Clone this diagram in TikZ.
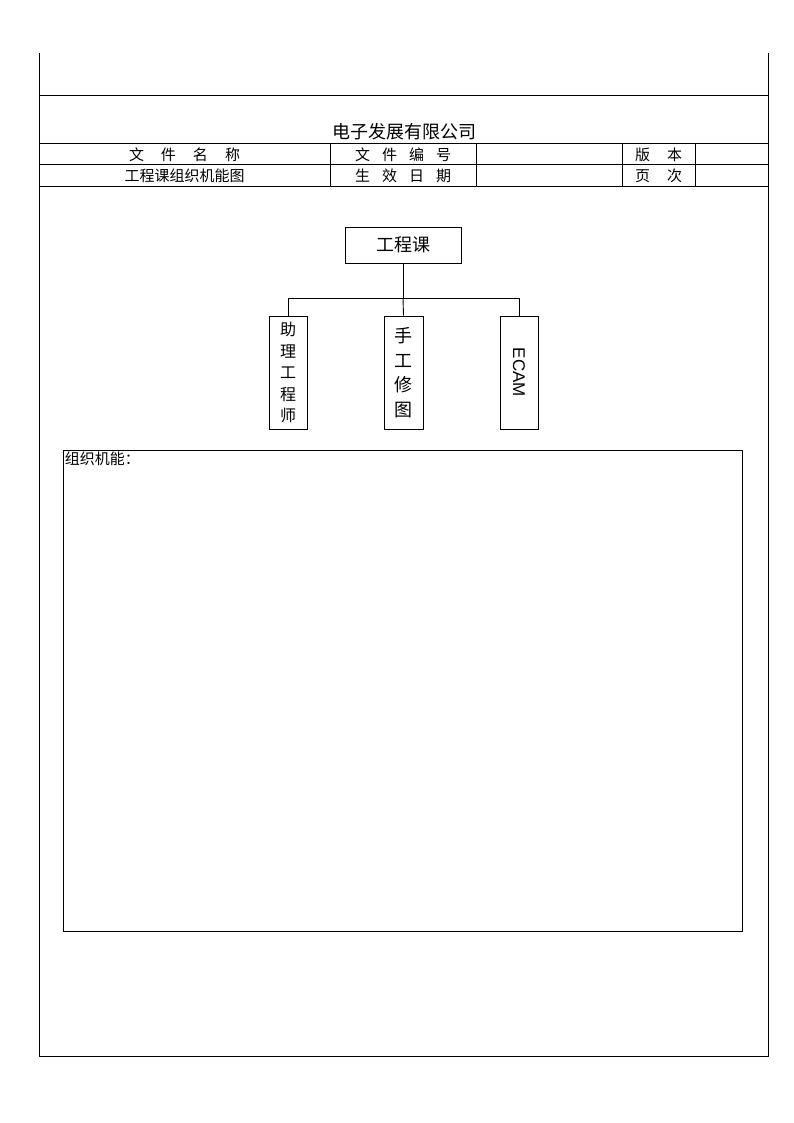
\documentclass[tikz,border=0pt]{standalone}
\usepackage{fontspec}
\setmainfont{Noto Sans CJK SC}
\newfontfamily\latinsans{Liberation Sans}
\usetikzlibrary{positioning}
\newcommand{\cgap}{\hspace{17pt}}
\newcommand{\sgap}{\hspace{12pt}}

\begin{document}
\begin{tikzpicture}[
  x=1pt,y=-1pt,
  frame/.style={line width=1pt, draw=black},
  cell/.style={inner sep=0pt, anchor=center, font=\fontsize{15}{17}\selectfont},
  unit/.style={
    rectangle, draw=black, line width=0.9pt,
    minimum width=38pt, minimum height=113pt,
    inner sep=0pt, align=center
  },
  link/.style={line width=0.9pt, draw=black}
]
\useasboundingbox (0,0) rectangle (794,1123);

% ---- form frame ----
\draw[frame] (39,53) -- (39,1056) -- (768,1056) -- (768,53);
\draw[frame] (39,96)  -- (768,96);
\draw[frame] (39,144) -- (768,144);
\draw[frame] (39,165) -- (768,165);
\draw[frame] (39,187) -- (768,187);
\foreach \cx in {330,476,622,695}
  \draw[frame] (\cx,144) -- (\cx,187);

% ---- header texts ----
\node[cell, font=\fontsize{18}{20}\selectfont] (company) at (404,132) {电子发展有限公司};
\node[cell] (namehd)  at (184.5,155) {文\cgap 件\cgap 名\cgap 称};
\node[cell] (codehd)  at (403,155)   {文\sgap 件\sgap 编\sgap 号};
\node[cell] (verhd)   at (658.5,155) {版\cgap 本};
\node[cell] (docname) at (184.5,176) {工程课组织机能图};
\node[cell] (datehd)  at (403,176)   {生\sgap 效\sgap 日\sgap 期};
\node[cell] (pagehd)  at (658.5,176) {页\cgap 次};

% ---- org chart ----
\node[unit, minimum width=116pt, minimum height=36pt, font=\fontsize{18}{20}\selectfont] (head) at (403,245) {工程课};
\node[unit, font=\fontsize{16}{21.5}\selectfont] (asst) at (288,372.5) {助\\理\\工\\程\\师};
\node[unit, minimum width=39pt, font=\fontsize{18}{24.5}\selectfont] (retouch) at (403.5,372.5) {手\\工\\修\\图};
\node[unit] (ecam) at (519,372.5) {};
\node[rotate=-90, font=\latinsans\fontsize{17}{19}\selectfont, inner sep=0pt] (ecamtxt) at (ecam.center) {ECAM};

\coordinate (bus) at (403,298);
\draw[link] (head.south) -- (bus);
\draw[link] (bus) -| (asst.north);
\draw[link] (bus) -- (retouch.north);
\draw[link] (bus) -| (ecam.north);

% ---- function box ----
\node[rectangle, draw=black, line width=0.9pt, minimum width=679pt, minimum height=481pt, inner sep=0pt] (funcbox) at (402.5,690.5) {};
\node[anchor=north west, inner sep=2pt, font=\fontsize{15}{17}\selectfont] (funclbl) at (funcbox.north west) {组织机能：};

\end{tikzpicture}
\end{document}
